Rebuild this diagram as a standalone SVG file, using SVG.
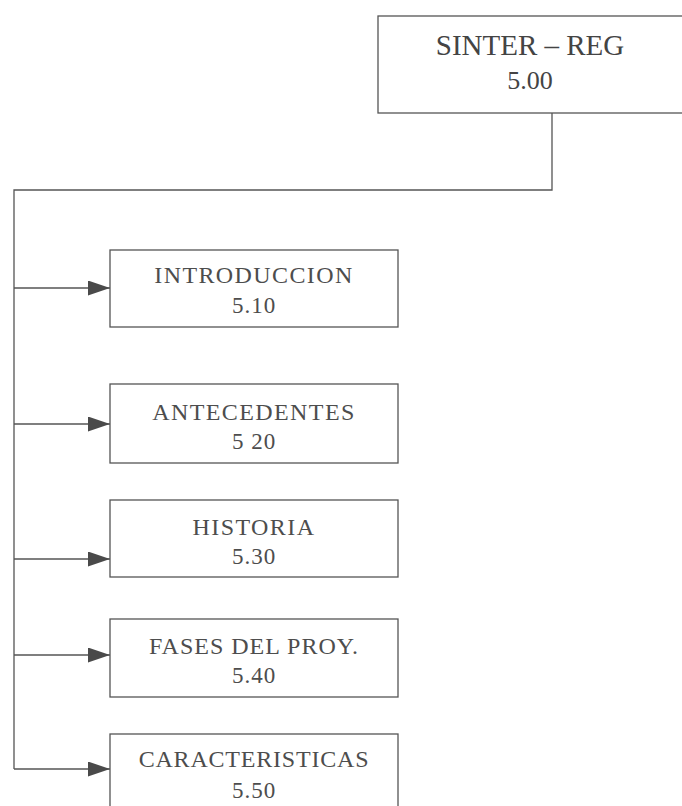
<svg xmlns="http://www.w3.org/2000/svg" width="682" height="806" viewBox="0 0 682 806">
<defs>
<marker id="arr" markerWidth="22" markerHeight="15" refX="22" refY="7.5" orient="auto" markerUnits="userSpaceOnUse">
<path d="M0,0 L22,7.5 L0,15 Z" fill="#4a4a4a"/>
</marker>
</defs>
<style>
.box{fill:#fff;stroke:#555;stroke-width:1.3}
.t{font-family:"Liberation Serif","Times New Roman",serif;fill:#4d4d4d;text-anchor:middle}
.c{font-size:24px;letter-spacing:1.4px}
.n{font-size:23px;letter-spacing:1px}
.top{font-size:29px;fill:#444}
.ln{fill:none;stroke:#555;stroke-width:1.3}
</style>
<rect width="682" height="806" fill="#fff"/>
<g id="connectors">
<polyline class="ln" points="552,113 552,190 14,190 14,769"/>
<line class="ln" x1="14" y1="288" x2="110" y2="288" marker-end="url(#arr)"/>
<line class="ln" x1="14" y1="424" x2="110" y2="424" marker-end="url(#arr)"/>
<line class="ln" x1="14" y1="559" x2="110" y2="559" marker-end="url(#arr)"/>
<line class="ln" x1="14" y1="655" x2="110" y2="655" marker-end="url(#arr)"/>
<line class="ln" x1="14" y1="769" x2="110" y2="769" marker-end="url(#arr)"/>
</g>
<g id="sinter-reg">
<rect class="box" x="378" y="16" width="310" height="97"/>
<text class="t top" x="530" y="55">SINTER – REG</text>
<text class="t top" x="530" y="89" style="font-size:26px">5.00</text>
</g>
<g id="introduccion">
<rect class="box" x="110" y="250" width="288" height="77"/>
<text class="t c" x="254" y="283">INTRODUCCION</text>
<text class="t n" x="254" y="313">5.10</text>
</g>
<g id="antecedentes">
<rect class="box" x="110" y="384" width="288" height="79"/>
<text class="t c" x="254" y="420">ANTECEDENTES</text>
<text class="t n" x="254" y="449">5 20</text>
</g>
<g id="historia">
<rect class="box" x="110" y="500" width="288" height="77"/>
<text class="t c" x="254" y="535">HISTORIA</text>
<text class="t n" x="254" y="564">5.30</text>
</g>
<g id="fases">
<rect class="box" x="110" y="619" width="288" height="78"/>
<text class="t c" x="254" y="654" style="letter-spacing:1px">FASES DEL PROY.</text>
<text class="t n" x="254" y="683">5.40</text>
</g>
<g id="caracteristicas">
<rect class="box" x="110" y="734" width="288" height="80"/>
<text class="t c" x="254" y="767" style="letter-spacing:0.8px">CARACTERISTICAS</text>
<text class="t n" x="254" y="798">5.50</text>
</g>
</svg>
